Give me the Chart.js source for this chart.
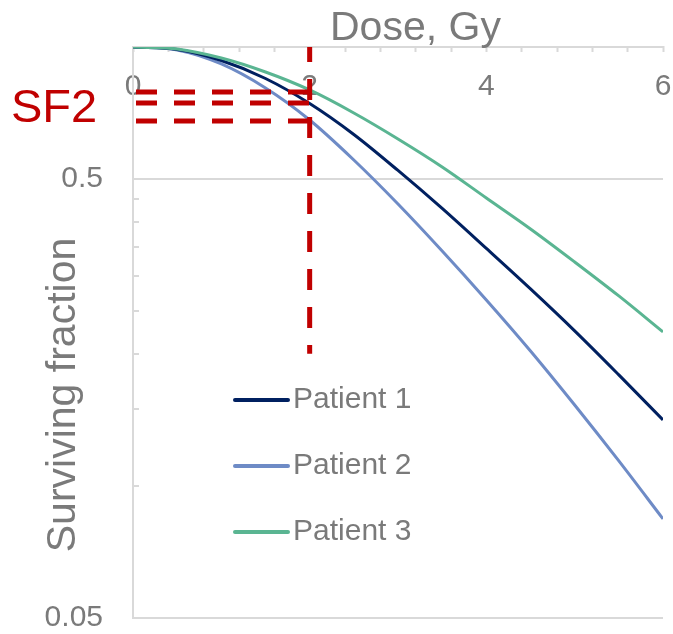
<!DOCTYPE html>
<html><head><meta charset="utf-8">
<script src="https://cdn.jsdelivr.net/npm/chart.js@4.4.0/dist/chart.umd.min.js"></script>
<style>html,body{margin:0;padding:0;background:#fff;overflow:hidden;}canvas{display:block;}</style>
</head><body>
<canvas id="c" width="673" height="634"></canvas>
<script>
// ---- data ----
const doses = [0, 0.5, 1, 1.5, 2, 2.5, 3, 3.5, 4, 4.5, 5, 5.5, 6];
const patient1 = [1, 0.9870, 0.9316, 0.8477, 0.7435, 0.6320, 0.5232, 0.4287, 0.3475, 0.2810, 0.2255, 0.1790, 0.1414];
const patient2 = [1, 0.9844, 0.9147, 0.8065, 0.6819, 0.5528, 0.4389, 0.3430, 0.2653, 0.2030, 0.1529, 0.1140, 0.0841];
const patient3 = [1, 0.9896, 0.9439, 0.8771, 0.7981, 0.7074, 0.6172, 0.5329, 0.4529, 0.3850, 0.3238, 0.2709, 0.2243];
const seriesNames = ['Patient 1', 'Patient 2', 'Patient 3'];
const sf2Dose = 2;
const sf2Values = [0.790, 0.745, 0.678];
const sf2LineTop = 1;
const sf2LineBottom = 0.2;
const xTickValues = [0, 0.4, 0.8, 1.2, 1.6, 2, 2.4, 2.8, 3.2, 3.6, 4, 4.4, 4.8, 5.2, 5.6, 6];
const xTickLabels = [0, 2, 4, 6];
const yTickValues = [0.05, 0.1, 0.15, 0.2, 0.25, 0.3, 0.35, 0.4, 0.45, 0.5, 1];
const yTickLabels = [0.05, 0.5];

// ---- styles ----
const FONT = "'Liberation Sans', Arial, sans-serif";
const GRAY = '#7a7a7a';
const AXIS = '#d9d9d9';
const RED = '#C00000';
const seriesColors = ['#002060', '#6E8BC6', '#5AB592'];
const seriesOrder = [2, 3, 1];

const pts = (ys) => doses.map((d, i) => ({x: d, y: ys[i]}));
const near = (v, list) => list.some(l => Math.abs(l - v) < 1e-6);

const redStyle = {borderColor: RED, backgroundColor: RED, borderWidth: 5, borderDash: [21, 17],
  borderCapStyle: 'butt', pointRadius: 0, fill: false, order: 0, isRef: true};

const datasets = [
  Object.assign({label: 'SF2 dose', data: [{x: sf2Dose, y: sf2LineTop}, {x: sf2Dose, y: sf2LineBottom}], borderDashOffset: 6}, redStyle),
  ...sf2Values.map((v, i) => Object.assign({label: 'SF2 ' + (i + 1), data: [{x: 0, y: v}, {x: sf2Dose, y: v}], borderDashOffset: 35}, redStyle)),
  ...[patient1, patient2, patient3].map((ys, i) => ({
    label: seriesNames[i], data: pts(ys), borderColor: seriesColors[i], backgroundColor: seriesColors[i],
    borderWidth: 3, pointRadius: 0, cubicInterpolationMode: 'monotone', fill: false, order: seriesOrder[i]
  }))
];

const overlay = {
  id: 'overlay',
  afterDraw(chart) {
    const ctx = chart.ctx;
    ctx.save();
    // legend
    const series = chart.data.datasets.filter(d => !d.isRef);
    series.forEach((ds, i) => {
      const y = 400 + i * 66;
      ctx.strokeStyle = ds.borderColor; ctx.lineWidth = 4; ctx.lineCap = 'round';
      ctx.beginPath(); ctx.moveTo(235, y); ctx.lineTo(288, y); ctx.stroke();
      ctx.fillStyle = GRAY; ctx.font = '30px ' + FONT; ctx.textAlign = 'left'; ctx.textBaseline = 'middle';
      ctx.fillText(ds.label, 293, y);
    });
    // x title
    ctx.fillStyle = GRAY; ctx.font = '41px ' + FONT; ctx.textAlign = 'left'; ctx.textBaseline = 'alphabetic';
    ctx.fillText('Dose, Gy', 330, 40);
    // y title
    ctx.save();
    ctx.translate(75, 395); ctx.rotate(-Math.PI / 2);
    ctx.textAlign = 'center'; ctx.textBaseline = 'alphabetic';
    ctx.fillText('Surviving fraction', 0, 0);
    ctx.restore();
    // SF2 label
    ctx.fillStyle = RED; ctx.font = '47px ' + FONT; ctx.textAlign = 'left'; ctx.textBaseline = 'alphabetic';
    ctx.fillText('SF2', 11, 122);
    ctx.restore();
  }
};

new Chart(document.getElementById('c'), {
  type: 'line',
  data: {datasets},
  options: {
    responsive: false, animation: false, devicePixelRatio: 1,
    layout: {padding: {left: 0, right: 10, top: 0, bottom: 16}},
    plugins: {legend: {display: false}, tooltip: {enabled: false}, title: {display: false}},
    scales: {
      x: {
        type: 'linear', position: 'top', min: 0, max: 6,
        afterBuildTicks: (s) => { s.ticks = xTickValues.map(v => ({value: v})); },
        afterFit: (s) => { s.height = 47; s.paddingLeft = 0; s.paddingRight = 0; },
        ticks: {autoSkip: false, maxRotation: 0, minRotation: 0, mirror: true, padding: 22, color: GRAY,
          font: {family: FONT, size: 30},
          callback: (v) => near(v, xTickLabels) ? String(Math.round(v)) : ''},
        grid: {drawOnChartArea: false, drawTicks: true, tickLength: -5, tickColor: AXIS, tickWidth: 2, color: AXIS},
        border: {display: true, color: AXIS, width: 2},
        title: {display: false}
      },
      y: {
        type: 'logarithmic', position: 'left', min: 0.05, max: 1,
        afterBuildTicks: (s) => { s.ticks = yTickValues.map(v => ({value: v})); },
        afterFit: (s) => { s.width = 133; s.paddingTop = 0; s.paddingBottom = 0; },
        ticks: {autoSkip: false, padding: 36, color: GRAY, font: {family: FONT, size: 30},
          callback: (v) => near(v, yTickLabels) ? String(v) : ''},
        grid: {
          color: (c) => (c.tick && near(c.tick.value, yTickLabels)) ? AXIS : 'rgba(0,0,0,0)',
          lineWidth: 2, drawTicks: true, tickLength: -6, tickColor: AXIS, tickWidth: 2
        },
        border: {display: true, color: AXIS, width: 2},
        title: {display: false}
      }
    }
  },
  plugins: [overlay]
});
</script>
</body></html>
